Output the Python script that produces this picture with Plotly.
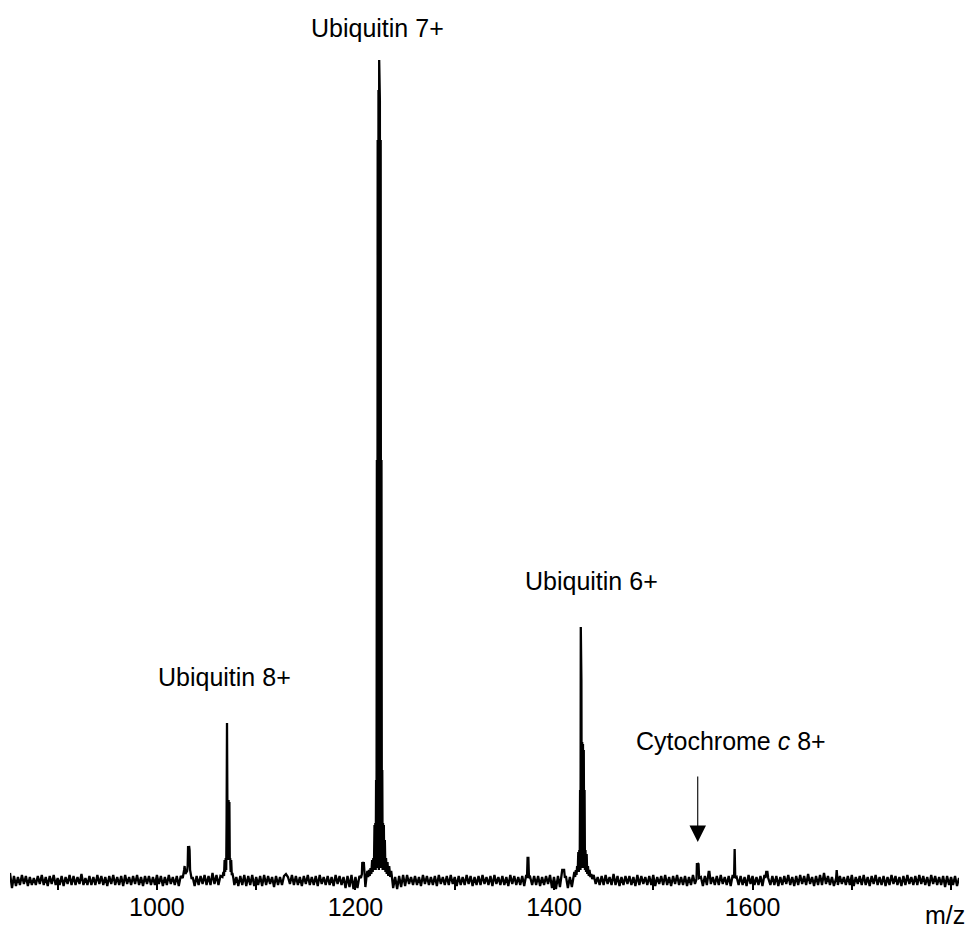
import numpy as np
import plotly.graph_objects as go

FONT = "Liberation Sans, Arial, sans-serif"
FSIZE = 25

# ---- baseline noise (hand-read, arbitrary intensity units; 7+ apex = 820) ----
noise_start = 852.0
noise_step = 2.0
noise_int = [
    7, -8, 4, -6, 3, -5, 5, -4, 4, -6, 3, -5, 2, -5, 4, -4, 5, -5, 3, -6,
    4, -4, 5, -5, 2, -5, 4, -6, 3, -4, 5, -5, 4, -5, 3, -4, 6, -5, 2, -5,
    4, -5, 3, -5, 5, -4, 4, -5, 3, -6, 4, -4, 5, -5, 3, -5, 4, -6, 5, -4,
    3, -5, 4, -4, 5, -5, 3, -6, 4, -4, 4, -5, 3, -5, 5, -4, 4, -6, 3, -5,
    5, -4, 3, -5, 4, -6, 4, -4, 3, -5, 5, -5, 3, -6, 4, -5, 4, -4, 5, -5,
    4, -5, 7, -4, 5, -5, 4, -6, 3, -5, 4, -6, 5, -5, 3, -6, 4, -5, 5, -6,
    4, -5, 5, -6, 3, -5, 4, -6, 5, -5, 4, -4, 3, -7, 4, -5, 3, -5, 4, 6,
    3, -4, 5, -5, 4, -5, 3, -6, 4, -4, 5, -5, 3, -5, 4, -6, 5, -4, 3, -5,
    4, -5, 3, -6, 5, -4, 4, -5, 3, -8, 4, -7, 5, -9, 3, -8, 4, -9, 5, -7,
    4, -5, 5, -4, 3, -6, 4, -5, 3, -5, 5, -4, 4, -8, 3, -9, 4, -7, 5, -6,
    5, -4, 3, -5, 4, -5, 3, -6, 5, -4, 4, -5, 3, -5, 4, -6, 5, -4, 3, -5,
    4, -5, 5, -4, 3, -6, 4, -5, 3, -5, 5, -4, 4, -6, 3, -5, 4, -5, 5, -4,
    3, -5, 4, -6, 5, -4, 3, -5, 4, -5, 3, -6, 5, -4, 4, -5, 3, -5, 4, -6,
    5, -4, 3, -5, 4, -5, 4, -6, 3, -5, 4, -4, 5, -8, 3, -9, 4, -7, 5, -9,
    4, -8, 3, -7, 5, -6, 3, -5, 4, -5, 3, -6, 4, -5, 5, -4, 3, -5, 4, -5,
    5, -4, 3, -5, 6, -5, 4, -6, 3, -5, 4, -4, 4, -5, 3, -6, 5, -5, 4, -4,
    3, -5, 4, -5, 5, -6, 3, -4, 4, -5, 5, -5, 3, -6, 4, -4, 5, -5, 3, -5,
    4, -6, 3, -5, 5, -4, 4, -5, 3, -6, 4, -5, 5, -4, 3, -5, 4, -5, 5, -4,
    3, -5, 4, -6, 5, -4, 3, -5, 4, -5, 3, -6, 5, -4, 4, -5, 3, -5, 4, -6,
    5, -4, 3, -5, 4, -5, 4, -6, 3, -5, 4, -4, 5, -5, 3, -6, 4, -5, 5, -4,
    4, -5, 6, -4, 3, -6, 4, -5, 5, -5, 7, -4, 4, -5, 3, -6, 5, -5, 4, -4,
    3, -5, 4, -5, 5, -6, 3, -4, 4, -5, 5, -5, 3, -6, 4, -4, 5, -5, 3, -5,
    4, -6, 3, -5, 5, -4, 4, -5, 3, -6, 4, -5, 5, -4, 3, -5, 4, -5, 5, -4,
    4, -5, 3, -6, 5, -4, 4, -5, 3, -5, 4, -7, 4, -5, 3, -5, 4, -6, 2, -3,
]

# ---- peak profiles (m/z, intensity) ----
p1032_mz = [1026.0, 1027.4, 1027.9, 1028.6, 1029.4, 1030.4, 1031.0, 1031.4, 1031.9, 1032.4, 1032.9, 1033.4, 1034.0, 1035.0]
p1032_int = [2, 10, 14, 6, 8, 9, 14, 34, 20, 34, 30, 10, 6, 1]

ub8_mz = [1066.0, 1067.0, 1067.6, 1068.2, 1068.8, 1069.3, 1069.8, 1070.2, 1070.6, 1071.0, 1071.4,
          1071.8, 1072.2, 1072.6, 1073.0, 1073.4, 1073.8, 1074.3, 1074.8, 1075.4, 1076.2, 1077.0]
ub8_int = [3, 8, 4, 20, 8, 22, 10, 60, 157, 70, 80,
           20, 80, 30, 78, 20, 22, 8, 20, 6, 6, 2]

p1206_mz = [1205.5, 1206.5, 1206.9, 1207.6, 1208.4, 1209.4]
p1206_int = [2, 6, 18, 14, 18, 3]

ub7_mz = [1211.0, 1212.0, 1212.8, 1213.6, 1214.4, 1215.2, 1216.0, 1216.8, 1217.4, 1218.0, 1218.6,
          1219.2, 1219.6, 1220.0, 1220.4, 1220.8, 1221.2, 1221.6, 1222.0, 1222.4, 1222.8, 1223.2,
          1223.6, 1223.9, 1224.2, 1224.6, 1225.0, 1225.4, 1225.8, 1226.2, 1226.6, 1227.0, 1227.4,
          1227.8, 1228.2, 1228.6, 1229.0, 1229.6, 1230.2, 1230.8, 1231.5, 1232.3, 1233.0, 1234.0,
          1235.0, 1236.0, 1237.0]
ub7_int = [2, 9, 3, 10, 4, 12, 6, 20, 8, 22, 10,
           55, 10, 57, 10, 100, 12, 420, 12, 740, 12, 790,
           10, 820, 10, 780, 12, 740, 12, 420, 12, 110, 10,
           57, 10, 55, 10, 40, 8, 22, 6, 18, 4, 14,
           3, 9, 1]

p1374_mz = [1372.8, 1373.4, 1374.2, 1374.8]
p1374_int = [2, 22, 22, 2]

p1409_mz = [1407.5, 1408.3, 1410.2, 1411.0]
p1409_int = [2, 10, 10, 2]

ub6_mz = [1419.5, 1420.5, 1421.3, 1422.0, 1422.7, 1423.3, 1423.9, 1424.5, 1425.0, 1425.5, 1425.9,
          1426.3, 1426.7, 1427.0, 1427.3, 1427.6, 1428.0, 1428.4, 1428.8, 1429.2, 1429.6, 1430.0,
          1430.4, 1430.8, 1431.2, 1431.7, 1432.3, 1432.9, 1433.5, 1434.2, 1435.0, 1435.8, 1436.6,
          1437.5, 1438.5]
ub6_int = [2, 8, 3, 10, 5, 14, 8, 28, 8, 30, 10,
           90, 10, 253, 12, 200, 12, 138, 12, 136, 12, 130,
           12, 90, 10, 30, 8, 26, 6, 14, 4, 10, 3,
           6, 1]

cytc8_mz = [1543.6, 1544.0, 1544.5, 1545.0, 1545.6, 1546.2]
cytc8_int = [1, 17, 10, 17, 16, 2]

p1556_mz = [1555.2, 1555.8, 1556.6, 1557.2]
p1556_int = [2, 8, 8, 1]

p1582_mz = [1581.4, 1582.0, 1582.6]
p1582_int = [2, 31, 2]

p1614_mz = [1613.0, 1613.8, 1615.0, 1615.8]
p1614_int = [2, 8, 8, 2]

p1685_mz = [1684.2, 1684.8, 1685.4]
p1685_int = [2, 10, 2]

peaks = [(p1032_mz, p1032_int), (ub8_mz, ub8_int), (p1206_mz, p1206_int), (ub7_mz, ub7_int),
         (p1374_mz, p1374_int), (p1409_mz, p1409_int), (ub6_mz, ub6_int), (cytc8_mz, cytc8_int),
         (p1556_mz, p1556_int), (p1582_mz, p1582_int), (p1614_mz, p1614_int), (p1685_mz, p1685_int)]

# ---- axis ticks & labels ----
tick_vals = [900, 1000, 1100, 1200, 1300, 1400, 1500, 1600, 1700, 1800]
tick_text = ["", "1000", "", "1200", "", "1400", "", "1600", "", ""]

label_text = ["Ubiquitin 7+", "Ubiquitin 8+", "Ubiquitin 6+", "Cytochrome <i>c</i> 8+"]
label_mz = [1222.0, 1068.5, 1438.2, 1578.7]
label_int = [852, 203, 299, 139]

arrow_mz = 1544.8
arrow_int = 38

# ---- assemble spectrum ----
noise_mz = noise_start + noise_step * np.arange(len(noise_int))
noise_arr = np.array(noise_int, dtype=float)
keep = np.ones(len(noise_mz), dtype=bool)
for pm, _ in peaks:
    keep &= ~((noise_mz >= min(pm) - 0.5) & (noise_mz <= max(pm) + 0.5))
all_mz = list(noise_mz[keep])
all_int = list(noise_arr[keep])
for pm, pi in peaks:
    all_mz += pm
    all_int += pi
order = np.argsort(all_mz, kind="stable")
spec_mz = np.array(all_mz)[order]
spec_int = np.array(all_int)[order]

fig = go.Figure()
fig.add_trace(go.Scatter(x=spec_mz, y=spec_int, mode="lines",
                         line=dict(color="black", width=2.3), hoverinfo="skip"))

annotations = []
for t, xm, yi in zip(label_text, label_mz, label_int):
    annotations.append(dict(x=xm, y=yi, xref="x", yref="y", text=t, showarrow=False,
                            xanchor="center", yanchor="middle",
                            font=dict(family=FONT, size=FSIZE, color="black")))
annotations.append(dict(x=arrow_mz, y=arrow_int, xref="x", yref="y", text="", showarrow=True,
                        ax=0, ay=-67, axref="pixel", ayref="pixel",
                        arrowhead=2, arrowsize=3.0, arrowwidth=1.1, arrowcolor="black"))
annotations.append(dict(x=1793.5, y=-0.029, xref="x", yref="paper", text="m/z", showarrow=False,
                        xanchor="center", yanchor="middle",
                        font=dict(family=FONT, size=FSIZE, color="black")))

fig.update_layout(
    width=973, height=932,
    margin=dict(l=10, r=14, t=20, b=42),
    paper_bgcolor="white", plot_bgcolor="white",
    showlegend=False,
    xaxis=dict(range=[852, 1808], showgrid=False, zeroline=False, showline=False,
               ticks="inside", ticklen=9, tickwidth=1.5, tickcolor="black",
               tickvals=tick_vals, ticktext=tick_text,
               tickfont=dict(family=FONT, size=FSIZE, color="black")),
    yaxis=dict(range=[-10, 860], visible=False, showgrid=False, zeroline=False),
    annotations=annotations,
)

fig.write_html("out.html")
